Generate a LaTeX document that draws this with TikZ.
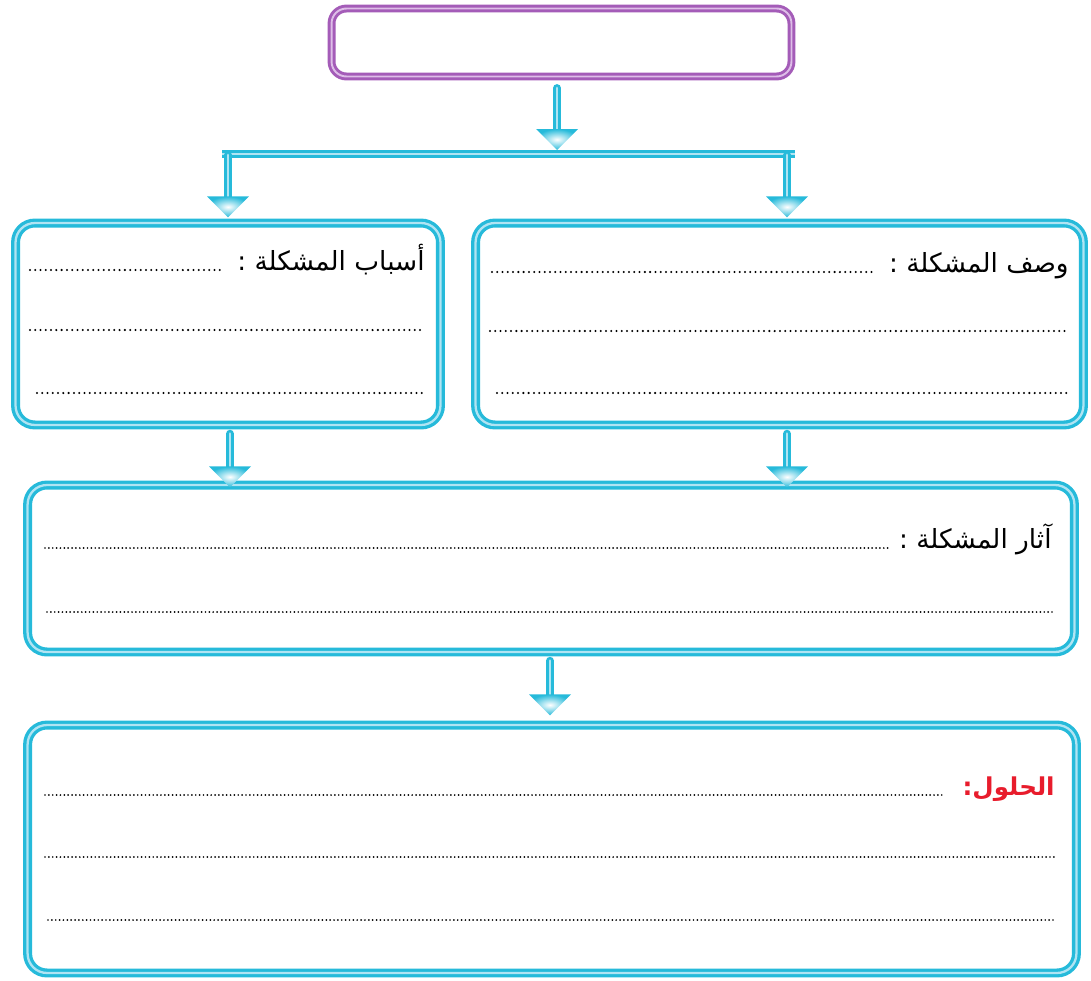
\documentclass[tikz,border=0pt]{standalone}
\usepackage{fontspec}
\newfontfamily\arabicfont[Script=Arabic]{DejaVu Sans}
\TeXXeTstate=1
\usetikzlibrary{calc}
\definecolor{mapcyan}{RGB}{38,186,218}
\definecolor{mapcyanlt}{RGB}{176,228,243}
\definecolor{mappurple}{RGB}{164,92,184}
\definecolor{mappurplelt}{RGB}{222,190,232}
\definecolor{mapred}{RGB}{232,28,44}
\tikzset{
    topbox/.style={rectangle, rounded corners=8.5pt, draw=mappurple, double=mappurplelt, double distance=1.1pt, line width=1.7pt, fill=white, inner sep=0pt},
    cbox/.style={rectangle, rounded corners=11pt, draw=mapcyan, double=mapcyanlt, double distance=1.3pt, line width=1.9pt, fill=white, inner sep=0pt},
    shaft/.style={draw=mapcyan, double=mapcyanlt, double distance=1.6pt, line width=1.4pt, line cap=round},
    barline/.style={shaft, line cap=butt},
    headshade/.style={inner color=white, outer color=mapcyan},
    lbl/.style={font=\arabicfont\fontsize{15}{18}\selectfont, inner sep=0pt, anchor=base east},
    sollbl/.style={lbl, font=\arabicfont\bfseries\fontsize{14}{17}\selectfont, text=mapred},
    dotrow/.style={line width=1.3pt, dash pattern=on 0pt off 3pt, line cap=round},
    dotrowfine/.style={line width=1.1pt, dash pattern=on 0pt off 2.2pt, line cap=round}
}
% shaft + shaded head, #1 start, #2 tip
\newcommand{\flowdown}[2]{%
    \draw[shaft] (#1) -- ($(#2)+(0,-18)$);
    \shade[headshade] (#2) -- ++(-21,-21) -- ++(42,0) -- cycle;
}

\begin{document}
\begin{tikzpicture}[x=0.02cm, y=-0.02cm]
    \useasboundingbox (0,0) rectangle (1091,980);

    % === Boxes ===
    \node[topbox, minimum width=9.2cm, minimum height=1.36cm] (problem) at (561.5,42.5) {};
    \node[cbox, minimum width=8.5cm, minimum height=4.04cm] (causes) at (228,324) {};
    \node[cbox, minimum width=12.16cm, minimum height=4.04cm] (describe) at (779.5,324) {};
    \node[cbox, minimum width=20.94cm, minimum height=3.34cm] (effects) at (551,568.5) {};
    \node[cbox, minimum width=20.98cm, minimum height=4.96cm] (solutions) at (552,849) {};

    % === Split bar ===
    \coordinate (split) at (557,154);
    \coordinate (barL) at (228,154);
    \coordinate (barR) at (787,154);
    \draw[barline] ($(barL)+(-6,0)$) -- ($(barR)+(8,0)$);

    % === Arrows ===
    \flowdown{$(problem.south -| split)+(0,10)$}{$(split)+(0,-4)$}
    \flowdown{$(barL)+(0,1)$}{$(barL |- causes.north)+(0,-4)$}
    \flowdown{$(barR)+(0,1)$}{$(barR |- describe.north)+(0,-4)$}
    \flowdown{$(causes.south)+(2,7)$}{$(causes.south |- effects.north)+(2,4)$}
    \flowdown{$(barR |- describe.south)+(0,7)$}{$(barR |- effects.north)+(0,4)$}
    \flowdown{$(effects.south)+(-1,7)$}{$(effects.south |- solutions.north)+(-1,-8)$}

    % === Causes ===
    \node[lbl] (causeslbl) at (425,270) {\beginR أسباب المشكلة :\endR};
    \draw[dotrow] (30,270) -- ($(causeslbl.base west)+(-14,0)$);
    \draw[dotrow] (30,330) -- (425,330);
    \draw[dotrow] (37,393) -- (425,393);

    % === Description ===
    \node[lbl] (describelbl) at (1069,272) {\beginR وصف المشكلة :\endR};
    \draw[dotrow] (492,272) -- ($(describelbl.base west)+(-14,0)$);
    \draw[dotrow] (490,331) -- (1068,331);
    \draw[dotrow] (497,393) -- (1068,393);

    % === Effects ===
    \node[lbl] (effectslbl) at (1052,548) {\beginR آثار المشكلة :\endR};
    \draw[dotrowfine] (45,548) -- ($(effectslbl.base west)+(-10,0)$);
    \draw[dotrowfine] (47,612) -- (1053,612);

    % === Solutions ===
    \node[sollbl] (solutionslbl) at (1055,795) {\beginR الحلول:\endR};
    \draw[dotrowfine] (45,795) -- ($(solutionslbl.base west)+(-18,0)$);
    \draw[dotrowfine] (45,857) -- (1055,857);
    \draw[dotrowfine] (48,920) -- (1055,920);
\end{tikzpicture}
\end{document}
